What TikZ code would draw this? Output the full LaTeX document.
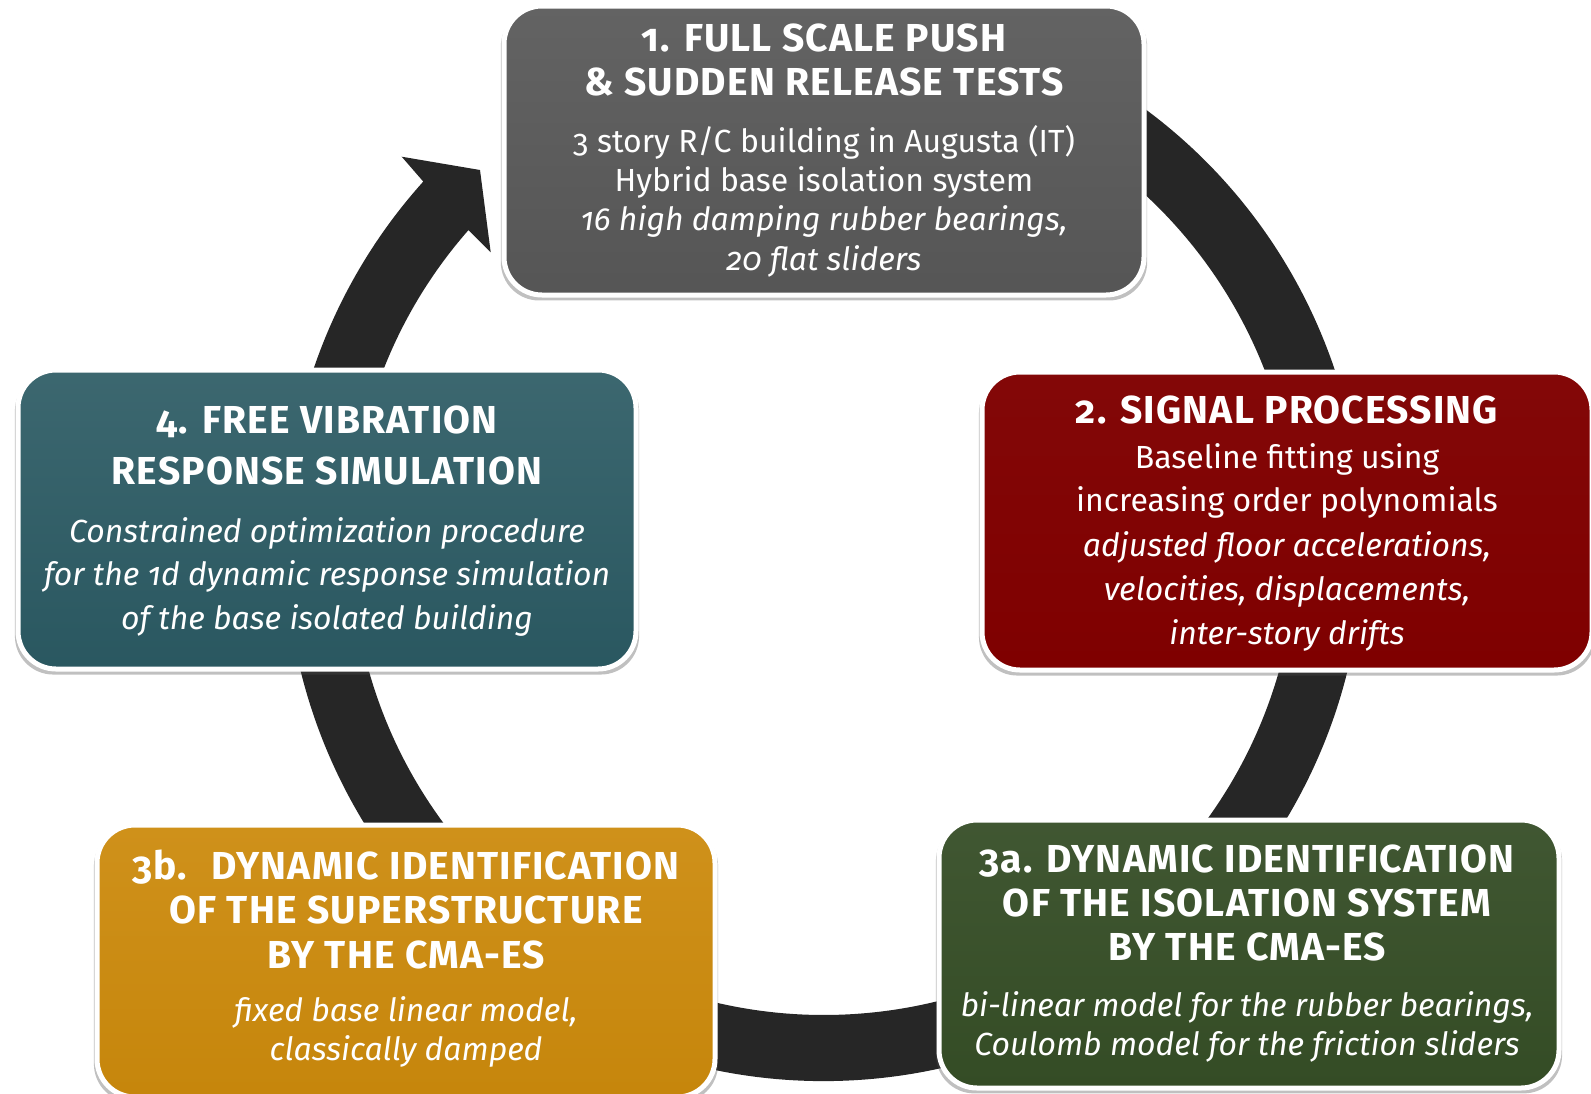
\documentclass[tikz,border=0pt]{standalone}
\usepackage{fontspec}
\setmainfont{Fira Sans}[Numbers=OldStyle]
\newfontfamily\ttlfont{Fira Sans}[Numbers=OldStyle, LetterSpace=3]
\usetikzlibrary{shadows}
\definecolor{ringc}{HTML}{262626}
\definecolor{grayb}{HTML}{595959}
\definecolor{redb}{HTML}{7F0000}
\definecolor{tealb}{HTML}{2B5A63}
\definecolor{yelb}{HTML}{CC8A0C}
\definecolor{greenb}{HTML}{344C25}
\tikzset{
  box/.style={draw=white, line width=2.5pt, rounded corners=19pt, inner sep=0pt,
    drop shadow={shadow xshift=0pt, shadow yshift=-2pt, shadow scale=1.01, opacity=0.35, fill=black!70}},
  ttl/.style={font=\fontsize{19.5}{22}\selectfont\ttlfont\bfseries, text=white, anchor=base, inner sep=0pt},
  bdy/.style={font=\fontsize{16}{19}\selectfont, text=white, anchor=base, inner sep=0pt},
  bdi/.style={font=\fontsize{16}{19}\selectfont\itshape, text=white, anchor=base, inner sep=0pt},
}
\begin{document}
\begin{tikzpicture}[x=0.5pt, y=-0.5pt]
\useasboundingbox (0,0) rectangle (1591,1093);
\fill[white] (0,0) rectangle (1591,1093);
% ring arrow
\begin{scope}[shift={(824,542)}, x=0.5pt, y=0.5pt]
  \fill[ringc] (60:539) arc[start angle=60, end angle=-221.97, radius=539]
     -- (-422.3,385.3) -- (-344,372) -- (-333.3,289.7)
     -- (138.73:473) arc[start angle=-221.27, end angle=60, radius=473] -- cycle;
\end{scope}
% boxes
\node[box, top color=grayb!94!white, bottom color=grayb!96!black, minimum width=320pt, minimum height=144.5pt] (b1) at (824,150.5) {};
\node[box, top color=redb!97!white, bottom color=redb, minimum width=305pt, minimum height=149pt] (b2) at (1287,521) {};
\node[box, top color=tealb!92!white, bottom color=tealb!97!black, minimum width=309pt, minimum height=149.5pt] (b4) at (327,519.5) {};
\node[box, top color=yelb!94!white, bottom color=yelb!97!black, minimum width=309pt, minimum height=136pt] (b3b) at (406,961) {};
\node[box, top color=greenb!94!white, bottom color=greenb, minimum width=310pt, minimum height=134pt] (b3a) at (1249,954) {};
% texts box 1
\node[ttl] (t1a) at (824,51) {1. FULL SCALE PUSH};
\node[ttl] (t1b) at (824,95) {\& SUDDEN RELEASE TESTS};
\node[bdy] (t1c) at (824,152) {3 story R/C building in Augusta (IT)};
\node[bdy] (t1d) at (824,191) {Hybrid base isolation system};
\node[bdi] (t1e) at (824,230) {16 high damping rubber bearings,};
\node[bdi] (t1f) at (824,270) {20 flat sliders};
% texts box 2
\node[ttl] (t2a) at (1287,423) {2. SIGNAL PROCESSING};
\node[bdy] (t2b) at (1287,468) {Baseline fitting using};
\node[bdy] (t2c) at (1287,511) {increasing order polynomials};
\node[bdi] (t2d) at (1287,556) {adjusted floor accelerations,};
\node[bdi] (t2e) at (1287,600) {velocities, displacements,};
\node[bdi] (t2f) at (1287,644) {inter-story drifts};
% texts box 4
\node[ttl] (t4a) at (327,433) {4. FREE VIBRATION};
\node[ttl] (t4b) at (327,484) {RESPONSE SIMULATION};
\node[bdi] (t4c) at (327,542) {Constrained optimization procedure};
\node[bdi] (t4d) at (327,585) {for the 1d dynamic response simulation};
\node[bdi] (t4e) at (327,629) {of the base isolated building};
% texts box 3b
\node[ttl] (t3ba) at (406,879) {3b.~ DYNAMIC IDENTIFICATION};
\node[ttl] (t3bb) at (406,923) {OF THE SUPERSTRUCTURE};
\node[ttl] (t3bc) at (406,968) {BY THE CMA-ES};
\node[bdi] (t3bd) at (406,1021) {fixed base linear model,};
\node[bdi] (t3be) at (406,1060) {classically damped};
% texts box 3a
\node[ttl] (t3aa) at (1247,872) {3a. DYNAMIC IDENTIFICATION};
\node[ttl] (t3ab) at (1247,916) {OF THE ISOLATION SYSTEM};
\node[ttl] (t3ac) at (1247,960) {BY THE CMA-ES};
\node[bdi] (t3ad) at (1247,1016) {bi-linear model for the rubber bearings,};
\node[bdi] (t3ae) at (1247,1055) {Coulomb model for the friction sliders};
\end{tikzpicture}
\end{document}
